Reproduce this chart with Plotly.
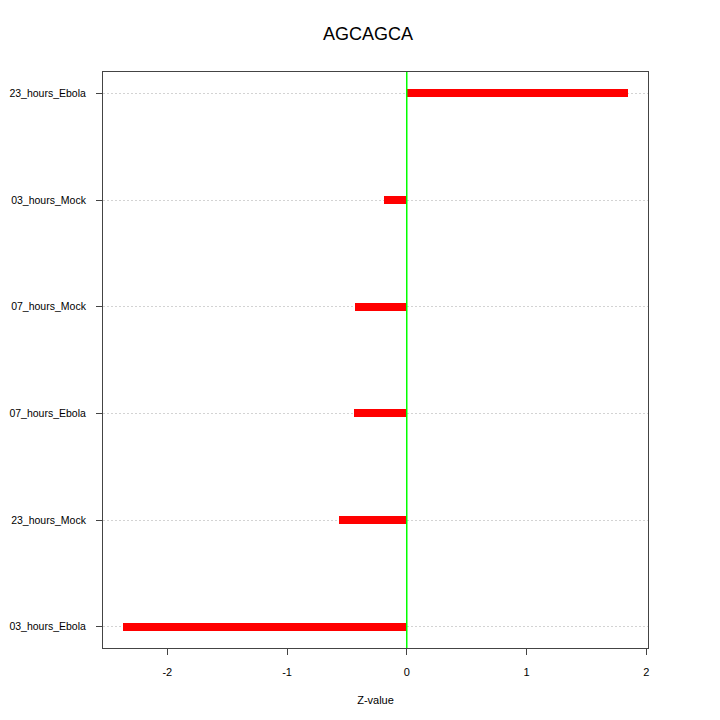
import plotly.graph_objects as go

categories = ["03_hours_Ebola", "23_hours_Mock", "07_hours_Ebola",
              "07_hours_Mock", "03_hours_Mock", "23_hours_Ebola"]
z_values = [-2.368, -0.57, -0.44, -0.435, -0.19, 1.846]
x_ticks = [-2, -1, 0, 1, 2]
x_tick_labels = ["-2", "-1", "0", "1", "2"]

FONT = "Liberation Sans, Arial, Helvetica, sans-serif"

fig = go.Figure()
fig.add_trace(go.Bar(
    x=z_values, y=categories, orientation="h", width=0.075,
    marker=dict(color="#ff0000", line=dict(width=0)),
    showlegend=False,
))
fig.add_vline(x=0, line=dict(color="#00ff00", width=1.5))

# page body adds ~8px offset, margins compensate
fig.update_layout(
    width=720, height=720,
    paper_bgcolor="white", plot_bgcolor="white",
    margin=dict(l=95, r=80, t=64, b=80),
    font=dict(family=FONT, color="black", size=11),
    title=dict(text="AGCAGCA", x=0.5, xanchor="center", y=0.964, yanchor="middle",
               font=dict(size=18, family=FONT, color="black")),
    bargap=0,
)
fig.update_xaxes(
    range=[-2.537, 2.015], tickvals=x_ticks, ticktext=x_tick_labels,
    ticks="outside", ticklen=6, tickcolor="#444", tickwidth=1,
    ticklabelstandoff=8, automargin=False,
    showgrid=False, zeroline=False,
    showline=True, linecolor="#444", linewidth=1, mirror=True,
    title=dict(text="Z-value", font=dict(size=11), standoff=19),
    tickfont=dict(size=11),
)
fig.update_yaxes(
    type="category", categoryorder="array", categoryarray=categories,
    range=[-0.2, 5.2],
    ticks="outside", ticklen=6, tickcolor="#444", tickwidth=1,
    ticklabelstandoff=8, automargin=False,
    showgrid=True, gridcolor="#d3d3d3", griddash="2px,2px", gridwidth=1,
    zeroline=False,
    showline=True, linecolor="#444", linewidth=1, mirror=True,
    tickfont=dict(size=10.5),
)

fig.write_html("out.html")
